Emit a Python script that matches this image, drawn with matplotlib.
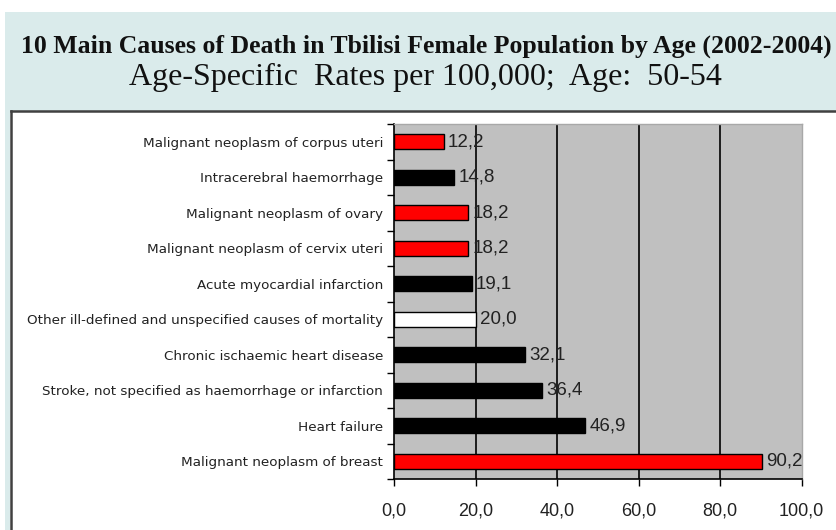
import matplotlib
matplotlib.use("Agg")
import matplotlib.pyplot as plt
from matplotlib.patches import Rectangle

categories = [
    "Malignant neoplasm of corpus uteri",
    "Intracerebral haemorrhage",
    "Malignant neoplasm of ovary",
    "Malignant neoplasm of cervix uteri",
    "Acute myocardial infarction",
    "Other ill-defined and unspecified causes of mortality",
    "Chronic ischaemic heart disease",
    "Stroke, not specified as haemorrhage or infarction",
    "Heart failure",
    "Malignant neoplasm of breast",
]
values = [12.2, 14.8, 18.2, 18.2, 19.1, 20.0, 32.1, 36.4, 46.9, 90.2]
bar_colors = ["#FF0000", "#000000", "#FF0000", "#FF0000", "#000000",
              "#FFFFFF", "#000000", "#000000", "#000000", "#FF0000"]
xticks = [0, 20, 40, 60, 80, 100]
xtick_labels = ["0,0", "20,0", "40,0", "60,0", "80,0", "100,0"]
title1 = "10 Main Causes of Death in Tbilisi Female Population by Age (2002-2004)"
title2 = "Age-Specific  Rates per 100,000;  Age:  50-54"

W, H = 837, 530
fig = plt.figure(figsize=(W / 100, H / 100), dpi=100)
fig.patch.set_facecolor("white")

def fx(x):
    return x / W

def fy(y):
    return 1 - y / H

# header band
fig.patches.append(Rectangle((fx(5), fy(112)), fx(837 - 5), (112 - 12) / H,
                             transform=fig.transFigure, facecolor="#DAEBEB",
                             edgecolor="none", zorder=0))
# left light strip
fig.patches.append(Rectangle((fx(5), 0), fx(5), fy(112),
                             transform=fig.transFigure, facecolor="#DAEBEB",
                             edgecolor="none", zorder=0))
# chart box border
fig.add_artist(plt.Line2D([fx(11), fx(11)], [0, fy(111)], transform=fig.transFigure,
                          color="#404040", lw=1.8))
fig.add_artist(plt.Line2D([fx(11), 1], [fy(111), fy(111)], transform=fig.transFigure,
                          color="#404040", lw=1.8))

fig.text(fx(426), fy(46), title1, ha="center", va="center",
         fontfamily="Liberation Serif", fontweight="bold", fontsize=18.5, color="#111111")
fig.text(fx(425), fy(77), title2, ha="center", va="center",
         fontfamily="Liberation Serif", fontsize=23, color="#111111")

ax = fig.add_axes([fx(394), fy(479), fx(801.7 - 394), (479 - 124) / H])
ax.set_facecolor("#C0C0C0")
n = len(categories)
ypos = list(range(n))
ax.barh(ypos, values, height=0.42, color=bar_colors, edgecolor="black",
        linewidth=1.0, zorder=3)
ax.set_ylim(n - 0.5, -0.5)
ax.set_xlim(0, 100)
ax.set_xticks(xticks)
ax.set_xticklabels(xtick_labels, fontfamily="Liberation Sans", fontsize=13,
                   color="#222222")
ax.set_yticks(ypos)
ax.set_yticklabels(categories, fontfamily="DejaVu Sans", fontsize=9.7,
                   color="#222222")
ax.set_yticks([i - 0.5 for i in range(n + 1)], minor=True)
ax.tick_params(axis="y", which="major", length=0, pad=8)
ax.tick_params(axis="y", which="minor", length=5, width=1, direction="out", color="black")
ax.tick_params(axis="x", which="major", length=5, width=1, direction="out", pad=12)
for gx in xticks[1:-1]:
    ax.axvline(gx, color="black", lw=1.2, zorder=2)
for s in ["left", "bottom"]:
    ax.spines[s].set_color("black")
    ax.spines[s].set_linewidth(1.2)
for s in ["top", "right"]:
    ax.spines[s].set_color("#A8A8A8")
    ax.spines[s].set_linewidth(1.0)

for i, v in enumerate(values):
    ax.annotate(f"{v:.1f}".replace(".", ","), (v, i), xytext=(3, 0),
                textcoords="offset points", ha="left", va="center",
                fontfamily="Liberation Sans", fontsize=13.5, color="#222222", zorder=4)

fig.savefig("out.png", dpi=100)
